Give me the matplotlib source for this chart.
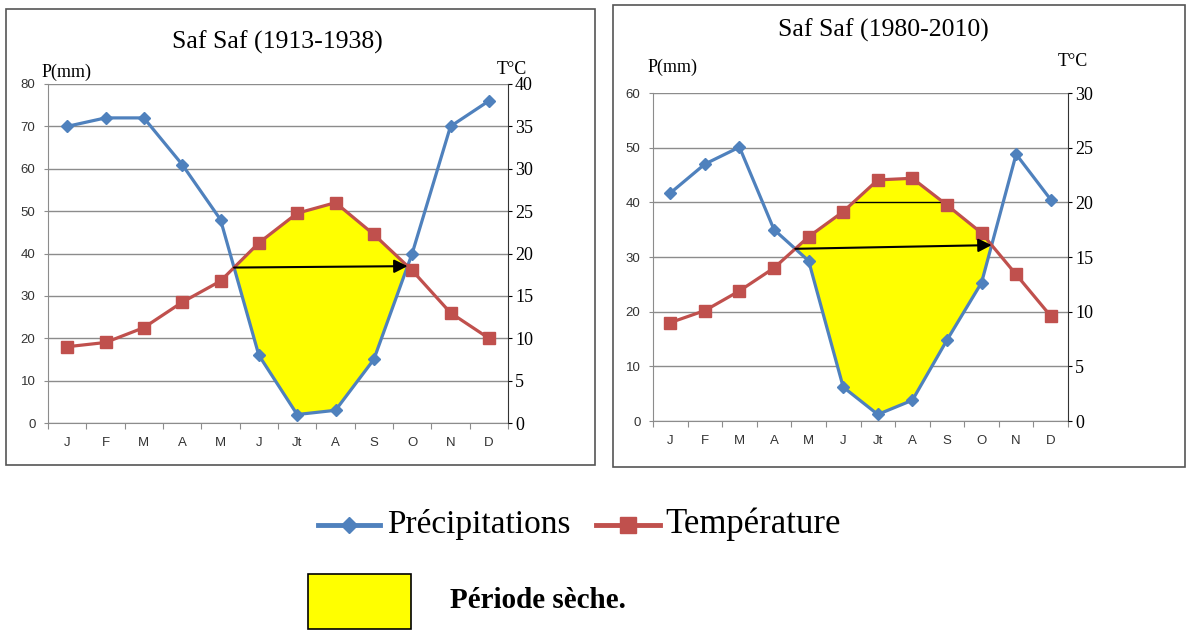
import matplotlib.pyplot as plt
import numpy as np
from matplotlib.lines import Line2D
from matplotlib.patches import Rectangle

# Month labels
months = ['J', 'F', 'M', 'A', 'M', 'J', 'Jt', 'A', 'S', 'O', 'N', 'D']

# Saf Saf 1913-1938 (precip mm, temperature in P scale = 2*T)
precip_old = [70, 72, 72, 61, 48, 16, 2, 3, 15, 40, 70, 76]
temp_old = [18, 19, 22.5, 28.5, 33.5, 42.5, 49.5, 52, 44.5, 36, 26, 20]

# Saf Saf 1980-2010
precip_new = [41.7, 47, 50.1, 35, 29.3, 6.2, 1.2, 3.8, 14.8, 25.3, 48.8, 40.5]
temp_new = [18, 20.2, 23.8, 28, 33.7, 38.3, 44.1, 44.4, 39.5, 34.4, 26.8, 19.2]

BLUE = '#4F81BD'
RED = '#C0504D'
GRID = '#8c8c8c'
SERIF = 'Liberation Serif'
SANS = 'Liberation Sans'


def crossings(x, a, b):
    # points where line a crosses line b
    pts = []
    d = np.array(a) - np.array(b)
    for i in range(len(d) - 1):
        if d[i] * d[i + 1] < 0:
            t = d[i] / (d[i] - d[i + 1])
            pts.append((x[i] + t, a[i] + t * (a[i + 1] - a[i])))
    return pts


def draw_chart(ax, precip, temp, pmax, pstep):
    x = np.arange(12)
    ax.set_xlim(-0.5, 11.5)
    ax.set_ylim(0, pmax)
    ax.set_yticks(np.arange(0, pmax + 1, pstep))
    ax.yaxis.grid(True, color=GRID, lw=1)
    ax.set_axisbelow(True)
    for s in ['top', 'right']:
        ax.spines[s].set_visible(False)
    ax.spines['left'].set_color(GRID)
    ax.spines['bottom'].set_color(GRID)
    ax.set_xticks(np.arange(-0.5, 12, 1))
    ax.set_xticklabels([])
    ax.set_xticks(x, minor=True)
    ax.set_xticklabels(months, minor=True, fontsize=9.5, family=SANS, color='#333333')
    ax.tick_params(axis='x', which='major', length=4, color=GRID)
    ax.tick_params(axis='x', which='minor', length=0, pad=10)
    ax.tick_params(axis='y', length=3, color=GRID, labelsize=9.5, labelcolor='#333333', pad=6)
    for lab in ax.get_yticklabels():
        lab.set_family(SANS)

    # dry period fill
    xd = np.linspace(0, 11, 2000)
    pi = np.interp(xd, x, precip)
    ti = np.interp(xd, x, temp)
    ax.fill_between(xd, pi, ti, where=ti > pi, color='#FFFF00', lw=0, zorder=2)

    ax.plot(x, precip, color=BLUE, lw=2.3, marker='D', ms=6.5, zorder=4)
    ax.plot(x, temp, color=RED, lw=2.3, marker='s', ms=8.5, zorder=4)

    pts = crossings(x, temp, precip)
    (x0, y0), (x1, y1) = pts[0], pts[-1]
    ax.annotate('', xy=(x1, y1), xytext=(x0, y0),
                arrowprops=dict(arrowstyle='-|>', color='black', lw=1.5,
                                mutation_scale=20, shrinkA=0, shrinkB=0),
                zorder=5)

    ax2 = ax.twinx()
    ax2.set_ylim(0, pmax / 2)
    ax2.set_yticks(np.arange(0, pmax / 2 + 1, 5))
    ax2.set_yticklabels([str(int(v)) for v in np.arange(0, pmax / 2 + 1, 5)],
                        family=SERIF, fontsize=13)
    for s in ['top', 'left', 'bottom']:
        ax2.spines[s].set_visible(False)
    ax2.spines['right'].set_color('#333333')
    ax2.tick_params(axis='y', length=3, pad=2)
    return ax2


fig = plt.figure(figsize=(11.86, 6.30), dpi=100)
W, H = 1186, 630


def fx(px):
    return px / W


def fy(py):
    return 1 - py / H


# frames
fig.add_artist(Rectangle((fx(6), fy(465)), fx(589), (465 - 9) / H, transform=fig.transFigure,
                         fill=False, ec='#555555', lw=1.2))
fig.add_artist(Rectangle((fx(613), fy(467)), fx(572), (467 - 5) / H, transform=fig.transFigure,
                         fill=False, ec='#555555', lw=1.2))

ax1 = fig.add_axes([fx(48), fy(423), fx(508 - 48), (423 - 84) / H])
draw_chart(ax1, precip_old, temp_old, 80, 10)

ax3 = fig.add_axes([fx(653), fy(421), fx(1068 - 653), (421 - 93) / H])
draw_chart(ax3, precip_new, temp_new, 60, 10)

# black line at 40 inside the yellow zone of the second chart
xc = [p[0] for p in crossings(np.arange(12), temp_new, [40] * 12)]
ax3.plot([xc[0], xc[-1]], [40, 40], color='black', lw=1, zorder=3)

# titles and axis names
fig.text(fx(277), fy(42), 'Saf Saf (1913-1938)', family=SERIF, fontsize=18.5, ha='center', va='center')
fig.text(fx(883), fy(30), 'Saf Saf (1980-2010)', family=SERIF, fontsize=18.5, ha='center', va='center')
fig.text(fx(67), fy(72), 'P(mm)', family=SERIF, fontsize=13, ha='center', va='center')
fig.text(fx(673), fy(67), 'P(mm)', family=SERIF, fontsize=13, ha='center', va='center')
fig.text(fx(512), fy(70), 'T°C', family=SERIF, fontsize=13, ha='center', va='center')
fig.text(fx(1073), fy(62), 'T°C', family=SERIF, fontsize=13, ha='center', va='center')

# legend
fig.add_artist(Line2D([fx(318), fx(380)], [fy(525), fy(525)], transform=fig.transFigure,
                      color=BLUE, lw=3.5))
fig.add_artist(Line2D([fx(349)], [fy(525)], transform=fig.transFigure,
                      color=BLUE, marker='D', ms=8))
fig.text(fx(387), fy(524), 'Précipitations', family=SERIF, fontsize=24, va='center')
fig.add_artist(Line2D([fx(596), fx(660)], [fy(525), fy(525)], transform=fig.transFigure,
                      color=RED, lw=3.5))
fig.add_artist(Line2D([fx(628)], [fy(525)], transform=fig.transFigure,
                      color=RED, marker='s', ms=11))
fig.text(fx(665), fy(524), 'Température', family=SERIF, fontsize=25, va='center')
fig.add_artist(Rectangle((fx(308), fy(629)), fx(103), 55 / H, transform=fig.transFigure,
                         fc='#FFFF00', ec='black', lw=1.2))
fig.text(fx(450), fy(601), 'Période sèche.', family=SERIF, fontsize=21, fontweight='bold', va='center')

fig.savefig('out.png', dpi=100)
